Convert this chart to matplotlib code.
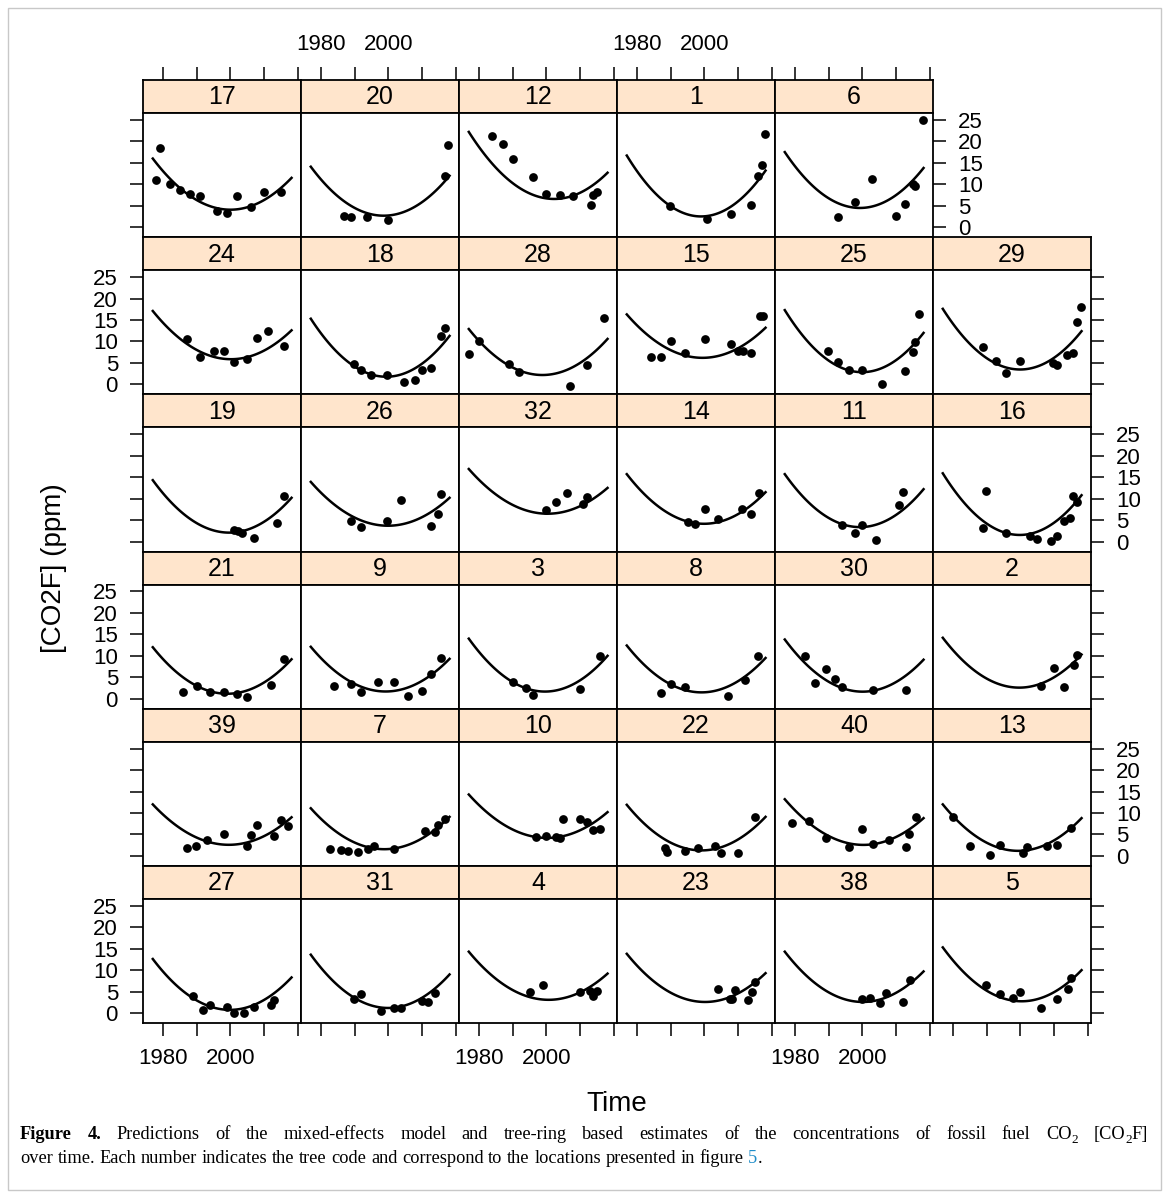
import numpy as np
import matplotlib
matplotlib.use('Agg')
import matplotlib.pyplot as plt
from matplotlib.patches import Rectangle

plt.rcParams['font.family'] = ['Liberation Sans', 'DejaVu Sans']

# panel layout, rows from top to bottom (tree codes)
layout = [
    [17, 20, 12, 1, 6],
    [24, 18, 28, 15, 25, 29],
    [19, 26, 32, 14, 11, 16],
    [21, 9, 3, 8, 30, 2],
    [39, 7, 10, 22, 40, 13],
    [27, 31, 4, 23, 38, 5],
]

# tree-ring estimates: year of each ring sample
obs_year = {
    17: [1978, 1979, 1982, 1985, 1988, 1991, 1996, 1999, 2002, 2006, 2010, 2015],
    20: [1986.8, 1988.9, 1993.7, 1999.8, 2016.7, 2017.7],
    12: [1984, 1987.1, 1990, 1996, 1999.9, 2004, 2008, 2013.1, 2013.8, 2014.9],
    1: [1989.9, 2000.9, 2007.9, 2013.9, 2015.9, 2017, 2017.9],
    6: [1992.9, 1997.8, 2002.9, 2009.8, 2012.7, 2014.9, 2015.7, 2017.8],
    24: [1987, 1991, 1995, 1998, 2001, 2005, 2008, 2011, 2016],
    18: [1989.8, 1991.8, 1994.8, 1999.7, 2004.7, 2007.8, 2009.8, 2012.7, 2015.7, 2016.7],
    28: [1977.2, 1980.1, 1989, 1992, 2007.1, 2012, 2017],
    15: [1984.1, 1987.1, 1990, 1994.2, 2000.1, 2008, 2010, 2011.3, 2013.9, 2016.4, 2017.2],
    25: [1989.9, 1992.9, 1995.9, 2000, 2005.9, 2012.7, 2014.9, 2015.7, 2016.9],
    29: [1988.9, 1992.9, 1995.8, 2000, 2009.6, 2010.9, 2013.7, 2015.7, 2016.9, 2018],
    19: [2001, 2002.3, 2003.3, 2006.9, 2013.9, 2016],
    26: [1988.9, 1991.8, 1999.7, 2003.7, 2012.7, 2014.7, 2015.7],
    32: [1999.9, 2002.9, 2006, 2010.8, 2012],
    14: [1995, 1997.1, 2000.1, 2004, 2011, 2013.9, 2016.1],
    11: [1994, 1997.9, 2000, 2004, 2010.9, 2012],
    16: [1989, 1989.8, 1995.8, 2002.9, 2004.8, 2009, 2010.8, 2012.9, 2014.8, 2015.7, 2016.7],
    21: [1986, 1990, 1994, 1998, 2002, 2004.9, 2012, 2016],
    9: [1983.8, 1988.9, 1991.8, 1996.8, 2001.7, 2005.7, 2009.8, 2012.7, 2015.7],
    3: [1990, 1994, 1996, 2010, 2016],
    8: [1987.2, 1990.2, 1994.1, 2007.1, 2012, 2016],
    30: [1983.1, 1986, 1989.1, 1992, 1994, 2003, 2012.9],
    2: [2006.1, 2010, 2013, 2015.9, 2016.9],
    39: [1987, 1989.9, 1993, 1998, 2005, 2006, 2008, 2012.9, 2015, 2017],
    7: [1982.8, 1985.8, 1987.9, 1990.9, 1993.8, 1995.8, 2001.7, 2010.8, 2013.8, 2014.7, 2016.7],
    10: [1997, 1999.9, 2002.9, 2004, 2005, 2010, 2012, 2013.9, 2016],
    22: [1988.2, 1989, 1994.1, 1998, 2003.1, 2005, 2010, 2015.1],
    40: [1979.1, 1984.1, 1989.1, 1996, 2000, 2003, 2008, 2012.9, 2013.9, 2016],
    13: [1980, 1985.1, 1991, 1993.9, 2000.9, 2001.8, 2007.9, 2010.8, 2015],
    27: [1989, 1992, 1994, 1999, 2001, 2004, 2007, 2012, 2012.9],
    31: [1989.8, 1991.8, 1997.8, 2001.7, 2003.7, 2009.8, 2011.8, 2013.8],
    4: [1995, 1999, 2010, 2013, 2013.9, 2015],
    23: [2004.1, 2007.6, 2008.2, 2009, 2013, 2014.1, 2015],
    38: [2000, 2002.2, 2005.1, 2007, 2012, 2014.1],
    5: [1989.9, 1993.9, 1997.9, 2000, 2006, 2010.8, 2014, 2015],
}

# tree-ring estimates: [CO2F] in ppm
obs_co2 = {
    17: [11.1, 18.4, 10.0, 8.6, 7.8, 7.2, 3.9, 3.4, 7.2, 4.8, 8.3, 8.3],
    20: [2.7, 2.5, 2.3, 1.7, 12.0, 19.2],
    12: [21.3, 19.5, 15.8, 11.7, 7.8, 7.5, 7.2, 5.2, 7.5, 8.3],
    1: [4.9, 1.9, 3.1, 5.3, 12.0, 14.6, 21.8],
    6: [2.3, 6.0, 11.3, 2.6, 5.5, 10.0, 9.6, 25.0],
    24: [10.6, 6.4, 7.8, 7.8, 5.3, 5.9, 10.7, 12.5, 8.9],
    18: [4.8, 3.3, 2.2, 2.3, 0.6, 1.0, 3.3, 3.9, 11.3, 13.1],
    28: [7.2, 10.1, 4.7, 3.0, -0.3, 4.5, 15.4],
    15: [6.3, 6.3, 10.2, 7.4, 10.5, 9.4, 7.8, 7.7, 7.3, 15.9, 15.9],
    25: [7.9, 5.2, 3.4, 3.4, 0.1, 3.2, 7.6, 9.9, 16.3],
    29: [8.7, 5.5, 2.7, 5.4, 5.1, 4.6, 6.8, 7.4, 14.5, 18.0],
    19: [2.8, 2.4, 2.1, 0.9, 4.3, 10.7],
    26: [4.9, 3.5, 4.9, 9.6, 3.7, 6.5, 11.0],
    32: [7.3, 9.3, 11.2, 8.8, 10.4],
    14: [4.5, 4.2, 7.7, 5.2, 7.7, 6.4, 11.2],
    11: [3.9, 1.9, 3.9, 0.4, 8.5, 11.5],
    16: [3.2, 11.7, 1.9, 1.3, 0.5, 0.2, 1.4, 4.9, 5.5, 10.6, 9.3],
    21: [1.6, 3.0, 1.6, 1.6, 1.1, 0.5, 3.3, 9.3],
    9: [3.0, 3.4, 1.6, 3.9, 4.0, 0.6, 1.9, 5.8, 9.5],
    3: [3.9, 2.5, 0.8, 2.2, 10.0],
    8: [1.3, 3.4, 2.7, 0.7, 4.4, 10.0],
    30: [10.0, 3.7, 7.0, 4.6, 2.8, 2.0, 2.1],
    2: [2.9, 7.2, 2.7, 7.9, 10.2],
    39: [1.9, 2.4, 3.6, 5.2, 2.3, 4.8, 7.2, 4.7, 8.4, 6.9],
    7: [1.7, 1.4, 1.1, 0.9, 1.6, 2.2, 1.7, 5.8, 5.6, 7.3, 8.6],
    10: [4.4, 4.7, 4.3, 4.2, 8.7, 8.7, 7.8, 6.1, 6.2],
    22: [1.8, 0.9, 1.2, 1.8, 2.3, 0.8, 0.7, 9.0],
    40: [7.7, 8.2, 4.1, 2.0, 6.2, 2.7, 3.8, 2.1, 5.1, 9.1],
    13: [9.1, 2.3, 0.2, 2.6, 0.7, 2.1, 2.3, 2.6, 6.6],
    27: [4.0, 0.8, 2.0, 1.4, 0.0, 0.1, 1.4, 1.9, 3.1],
    31: [3.3, 4.4, 0.5, 1.1, 1.1, 2.8, 2.6, 4.6],
    4: [4.8, 6.5, 4.8, 5.1, 4.1, 5.1],
    23: [5.7, 3.4, 3.4, 5.3, 3.0, 4.9, 7.2],
    38: [3.2, 3.5, 2.3, 4.7, 2.6, 7.6],
    5: [6.5, 4.4, 3.5, 4.9, 1.2, 3.4, 5.6, 8.1],
}

# model predictions: value at start, minimum (year, value), value at end
fit_start = {17: 16.0, 20: 14.1, 12: 22.2, 1: 16.7, 6: 17.5, 24: 17.1, 18: 15.3, 28: 12.9,
             15: 16.3, 25: 17.3, 29: 17.6, 19: 14.3, 26: 13.9, 32: 16.9, 14: 15.7, 11: 15.7,
             16: 15.9, 21: 12.0, 9: 12.1, 3: 14.0, 8: 12.4, 30: 13.8, 2: 14.2, 39: 12.0,
             7: 11.1, 10: 14.3, 22: 11.9, 40: 13.2, 13: 12.0, 27: 12.6, 31: 13.6, 4: 14.3,
             23: 13.8, 38: 14.3, 5: 15.3}
fit_min_year = {17: 1999.6, 20: 1998.7, 12: 2001.8, 1: 2000.6, 6: 1999.1, 24: 2001.2, 18: 1999.7,
                28: 1998.7, 15: 1999.7, 25: 2001.1, 29: 2000.7, 19: 1999.1, 26: 1999.7, 32: 2000.8,
                14: 1998.4, 11: 1998.3, 16: 2001.1, 21: 2000.2, 9: 1999.2, 3: 1998.7, 8: 1999.6,
                30: 2001.4, 2: 2000.0, 39: 1999.1, 7: 1997.6, 10: 2000.8, 22: 1998.5, 40: 2001.4,
                13: 2000.0, 27: 2001.2, 31: 1999.7, 4: 2000.8, 23: 2000.6, 38: 1999.8, 5: 1999.0}
fit_min = {17: 4.1, 20: 2.7, 12: 6.6, 1: 2.6, 6: 4.5, 24: 5.9, 18: 1.8, 28: 2.2, 15: 6.2,
           25: 2.9, 29: 3.5, 19: 2.1, 26: 3.7, 32: 6.5, 14: 4.2, 11: 3.4, 16: 1.6, 21: 1.2,
           9: 1.7, 3: 1.7, 8: 1.5, 30: 1.7, 2: 2.6, 39: 2.6, 7: 1.6, 10: 4.2, 22: 1.3, 40: 2.6,
           13: 1.2, 27: 0.8, 31: 1.2, 4: 3.1, 23: 2.6, 38: 2.6, 5: 2.8}
fit_end = {17: 11.5, 20: 12.0, 12: 12.7, 1: 13.2, 6: 13.8, 24: 12.6, 18: 11.3, 28: 10.6,
           15: 13.2, 25: 12.0, 29: 12.4, 19: 10.2, 26: 10.2, 32: 12.5, 14: 11.5, 11: 12.2,
           16: 10.8, 21: 9.2, 9: 9.3, 3: 10.0, 8: 9.5, 30: 9.1, 2: 10.3, 39: 9.0, 7: 9.1,
           10: 10.2, 22: 9.1, 40: 8.8, 13: 8.8, 27: 8.3, 31: 9.0, 4: 9.2, 23: 9.3, 38: 9.7,
           5: 10.0}
fit_years = (1977.0, 2018.1)

x_ticks = [1980, 1990, 2000, 2010, 2020]
x_tick_labels = ['1980', '', '2000', '', '']
y_ticks = [0, 5, 10, 15, 20, 25]

W, H = 1170, 1197
STRIP_COLOR = '#FFE5CC'
LW_BOX = 1.3
TICK_KW = dict(direction='out', length=9.5, width=1.1, labelsize=16, pad=8.5, colors='black')
CAP_FONT = ['Liberation Serif', 'DejaVu Serif']
CAP_SIZE = 13.2
LINK_BLUE = '#1f8dc9'


def box(x0, y0, x1, y1):
    # pixel box (top-left origin) -> figure fraction rect
    return [x0 / W, 1 - y1 / H, (x1 - x0) / W, (y1 - y0) / H]


def piece(txt, bold=False, color='black', sub=False):
    return (txt, 'bold' if bold else 'normal', color, sub)


def draw_words(fig, x0, y, words, x1=None):
    # words: list of lists of pieces; if x1 is given the line is justified to x1
    renderer = fig.canvas.get_renderer()
    artists = []
    widths = []
    for word in words:
        items = []
        w = 0.0
        for txt, weight, color, sub in word:
            size = CAP_SIZE * 0.72 if sub else CAP_SIZE
            t = fig.text(0, 0, txt, fontsize=size, fontweight=weight, color=color,
                         family=CAP_FONT, va='baseline', ha='left')
            bw = t.get_window_extent(renderer=renderer).width
            items.append((t, w, sub))
            w += bw
        artists.append(items)
        widths.append(w)
    space = fig.text(0, 0, 'a a', fontsize=CAP_SIZE, family=CAP_FONT).get_window_extent(renderer=renderer).width - \
        fig.text(0, 0, 'aa', fontsize=CAP_SIZE, family=CAP_FONT).get_window_extent(renderer=renderer).width
    for t in fig.texts[-2:]:
        t.remove()
    if x1 is not None and len(words) > 1:
        gap = (x1 - x0 - sum(widths)) / (len(words) - 1)
    else:
        gap = space
    x = x0
    for items, w in zip(artists, widths):
        for t, off, sub in items:
            dy = 4 if sub else 0
            t.set_position(((x + off) / W, 1 - (y + dy) / H))
        x += w + gap


fig = plt.figure(figsize=(W / 100, H / 100), dpi=100)

# light frame around the whole figure
fig.patches.append(Rectangle((8 / W, 1 - 1190 / H), 1153 / W, 1182 / H, transform=fig.transFigure,
                             fill=False, edgecolor='#c8c8c8', linewidth=1.0))

row_pitch = (1023 - 80) / 6.0
strip_h = 33
for r, row in enumerate(layout):
    top = 80 + r * row_pitch
    for c, tree in enumerate(row):
        left = 143 + 158 * c
        right = left + 158
        last_in_row = c == len(row) - 1

        # strip with the tree code
        sax = fig.add_axes(box(left, top, right, top + strip_h))
        sax.set_facecolor(STRIP_COLOR)
        sax.set_xlim(1974.1, 2020.9)
        sax.set_ylim(0, 1)
        sax.set_yticks([])
        sax.text(0.5, 0.47, str(tree), transform=sax.transAxes, ha='center', va='center', fontsize=18)
        for s in sax.spines.values():
            s.set_linewidth(LW_BOX)
        sax.set_xticks(x_ticks)
        sax.set_xticklabels(x_tick_labels)
        sax.tick_params(axis='x', **TICK_KW)
        sax.tick_params(axis='x', bottom=False, labelbottom=False, top=(r == 0),
                        labeltop=(r == 0 and c % 2 == 1))

        # data panel
        ax = fig.add_axes(box(left, top + strip_h, right, top + row_pitch))
        ax.set_xlim(1974.1, 2020.9)
        ax.set_ylim(-2.3, 26.6)
        for s in ax.spines.values():
            s.set_linewidth(LW_BOX)

        coef = np.polyfit([fit_years[0], fit_min_year[tree], fit_years[1]],
                          [fit_start[tree], fit_min[tree], fit_end[tree]], 2)
        tt = np.linspace(fit_years[0], fit_years[1], 120)
        ax.plot(tt, np.polyval(coef, tt), color='black', linewidth=1.8)
        ax.plot(obs_year[tree], obs_co2[tree], 'o', color='black', markersize=6.3, markeredgewidth=0)

        ax.set_xticks(x_ticks)
        ax.set_xticklabels(x_tick_labels)
        ax.set_yticks(y_ticks)
        ax.set_yticklabels([str(v) for v in y_ticks])
        ax.tick_params(axis='both', **TICK_KW)
        ax.tick_params(axis='x', top=False, labeltop=False, bottom=(r == 5),
                       labelbottom=(r == 5 and c % 2 == 0))
        ax.tick_params(axis='y', left=(c == 0), labelleft=(c == 0 and r % 2 == 1),
                       right=last_in_row, labelright=(last_in_row and r % 2 == 0))

fig.text(617 / W, 1 - 1104 / H, 'Time', fontsize=20, ha='center', va='center')
fig.text(54 / W, 1 - 568 / H, '[CO2F] (ppm)', fontsize=20, ha='center', va='center', rotation=90)

# figure caption, first line justified across the frame
line1 = [[piece('Figure', bold=True)], [piece('4.', bold=True)]]
line1 += [[piece(w)] for w in ('Predictions of the mixed-effects model and tree-ring based estimates '
                                'of the concentrations of fossil fuel').split()]
line1 += [[piece('CO'), piece('2', sub=True)], [piece('[CO'), piece('2', sub=True), piece('F]')]]
draw_words(fig, 20, 1139, line1, x1=1148)

line2 = [[piece(w)] for w in ('over time. Each number indicates the tree code and correspond to the '
                               'locations presented in figure').split()]
line2 += [[piece('5', color=LINK_BLUE), piece('.')]]
draw_words(fig, 20, 1163, line2)

fig.savefig('out.png', dpi=100)
print("Plot saved to out.png")
